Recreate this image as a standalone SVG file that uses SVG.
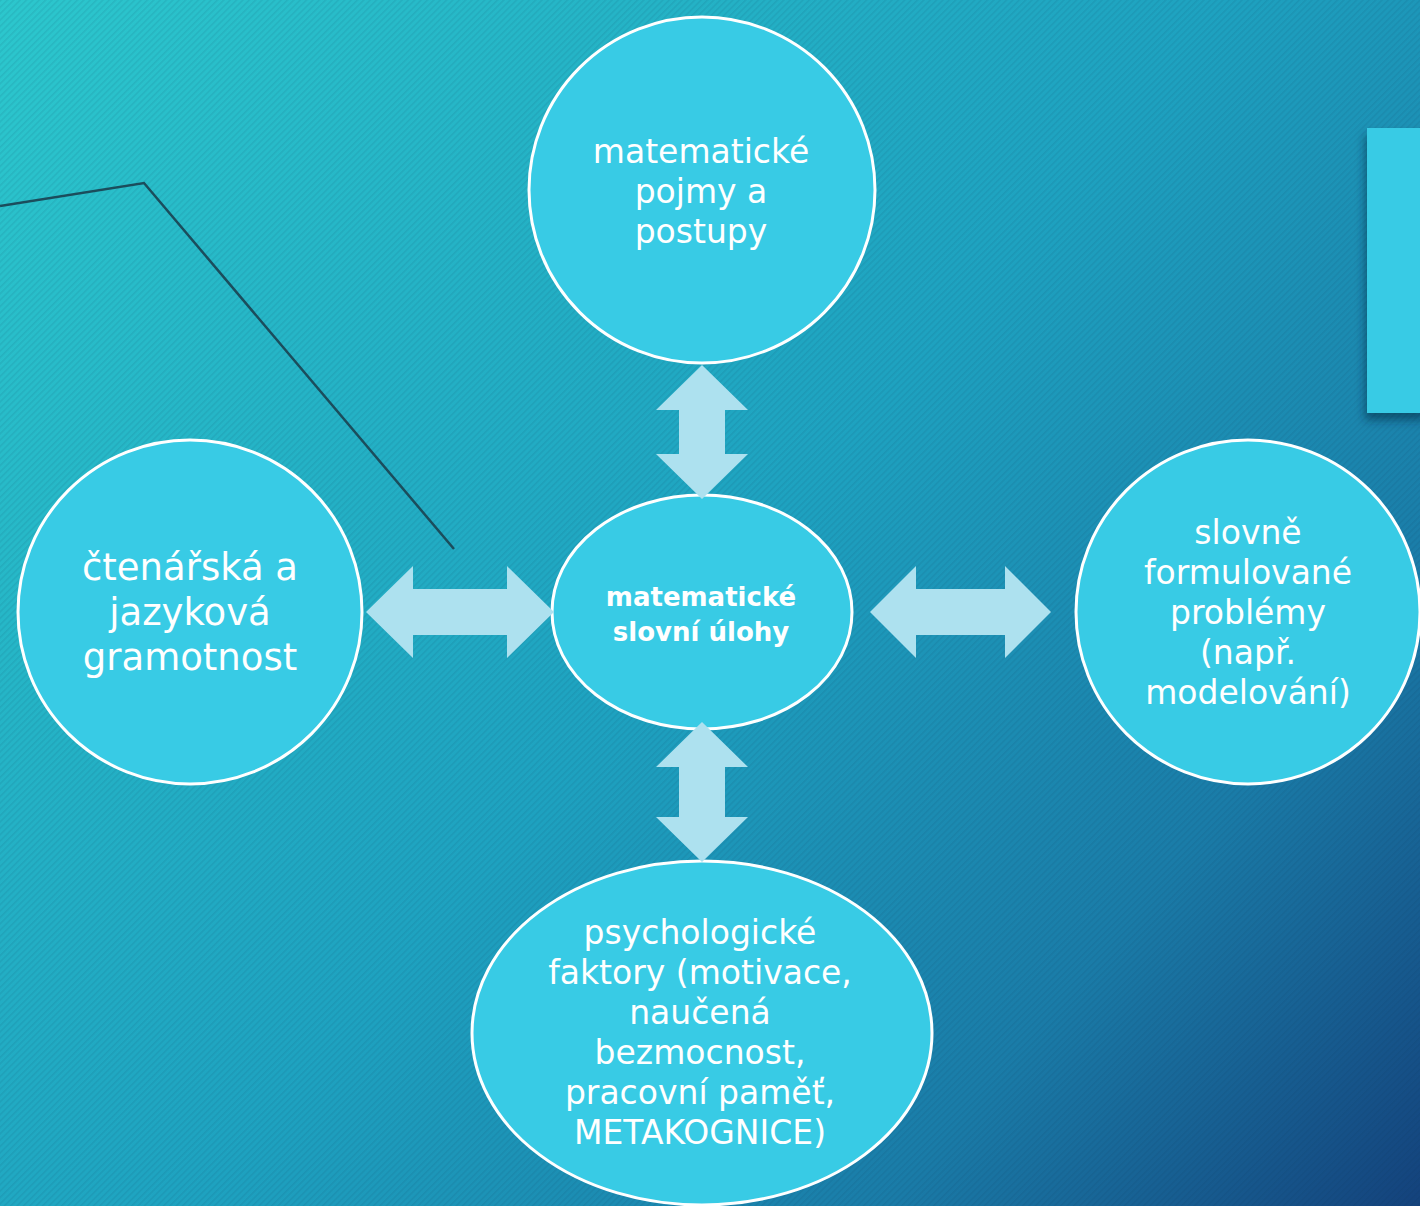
<svg xmlns="http://www.w3.org/2000/svg" width="1420" height="1206" viewBox="0 0 1420 1206">
<defs>
<linearGradient id="bg" x1="0" y1="0" x2="1420" y2="1206" gradientUnits="userSpaceOnUse">
<stop offset="0" stop-color="#2cc7cd"/>
<stop offset="0.5" stop-color="#1ea2c0"/>
<stop offset="0.78" stop-color="#1a7ca8"/>
<stop offset="1" stop-color="#14427c"/>
</linearGradient>
<pattern id="stripes" width="4.5" height="4.5" patternUnits="userSpaceOnUse" patternTransform="rotate(45)">
<rect x="0" y="0" width="1.6" height="4.5" fill="#0a3050" fill-opacity="0.09"/>
</pattern>
<filter id="shadow" x="-30%" y="-10%" width="160%" height="130%">
<feDropShadow dx="-2" dy="7" stdDeviation="5" flood-color="#062a40" flood-opacity="0.55"/>
</filter>
</defs>
<style>
.node{fill:#38cbe5;stroke:#ffffff;stroke-width:3}
.lbl{font-family:"DejaVu Sans","Verdana",sans-serif;fill:#ffffff;text-anchor:middle;font-size:33px}
.big{font-size:37px}
.bold{font-size:26px;font-weight:bold}
.arrow{fill:#ade1ef}
</style>
<rect width="1420" height="1206" fill="url(#bg)"/>
<rect width="1420" height="1206" fill="url(#stripes)"/>
<polyline points="0,206 144,183 454,549" fill="none" stroke="#1b4d5c" stroke-width="2.5"/>
<rect x="1367" y="128" width="60" height="285" fill="#38cbe5" filter="url(#shadow)"/>

<g id="node-top">
<circle class="node" cx="702" cy="190" r="173"/>
<text class="lbl"><tspan x="701" y="163">matematické</tspan><tspan x="701" y="203">pojmy a</tspan><tspan x="701" y="243">postupy</tspan></text>
</g>
<g id="node-left">
<circle class="node" cx="190" cy="612" r="172"/>
<text class="lbl big"><tspan x="190" y="580">čtenářská a</tspan><tspan x="190" y="625">jazyková</tspan><tspan x="190" y="670">gramotnost</tspan></text>
</g>
<g id="node-center">
<ellipse class="node" cx="702" cy="612" rx="150" ry="117"/>
<text class="lbl bold"><tspan x="701" y="606">matematické</tspan><tspan x="701" y="641">slovní úlohy</tspan></text>
</g>
<g id="node-right">
<circle class="node" cx="1248" cy="612" r="172"/>
<text class="lbl"><tspan x="1248" y="544">slovně</tspan><tspan x="1248" y="584">formulované</tspan><tspan x="1248" y="624">problémy</tspan><tspan x="1248" y="664">(např.</tspan><tspan x="1248" y="704">modelování)</tspan></text>
</g>
<g id="node-bottom">
<ellipse class="node" cx="702" cy="1033" rx="230" ry="172"/>
<text class="lbl"><tspan x="700" y="944">psychologické</tspan><tspan x="700" y="984">faktory (motivace,</tspan><tspan x="700" y="1024">naučená</tspan><tspan x="700" y="1064">bezmocnost,</tspan><tspan x="700" y="1104">pracovní paměť,</tspan><tspan x="700" y="1144">METAKOGNICE)</tspan></text>
</g>

<g id="connectors">
<polygon class="arrow" points="366,612 413,566 413,589 507,589 507,566 554,612 507,658 507,635 413,635 413,658"/>
<polygon class="arrow" points="870,612 916,566 916,589 1005,589 1005,566 1051,612 1005,658 1005,635 916,635 916,658"/>
<polygon class="arrow" points="702,365 748,410 725,410 725,454 748,454 702,499 656,454 679,454 679,410 656,410"/>
<polygon class="arrow" points="702,722 748,767 725,767 725,817 748,817 702,862 656,817 679,817 679,767 656,767"/>
</g>
</svg>
